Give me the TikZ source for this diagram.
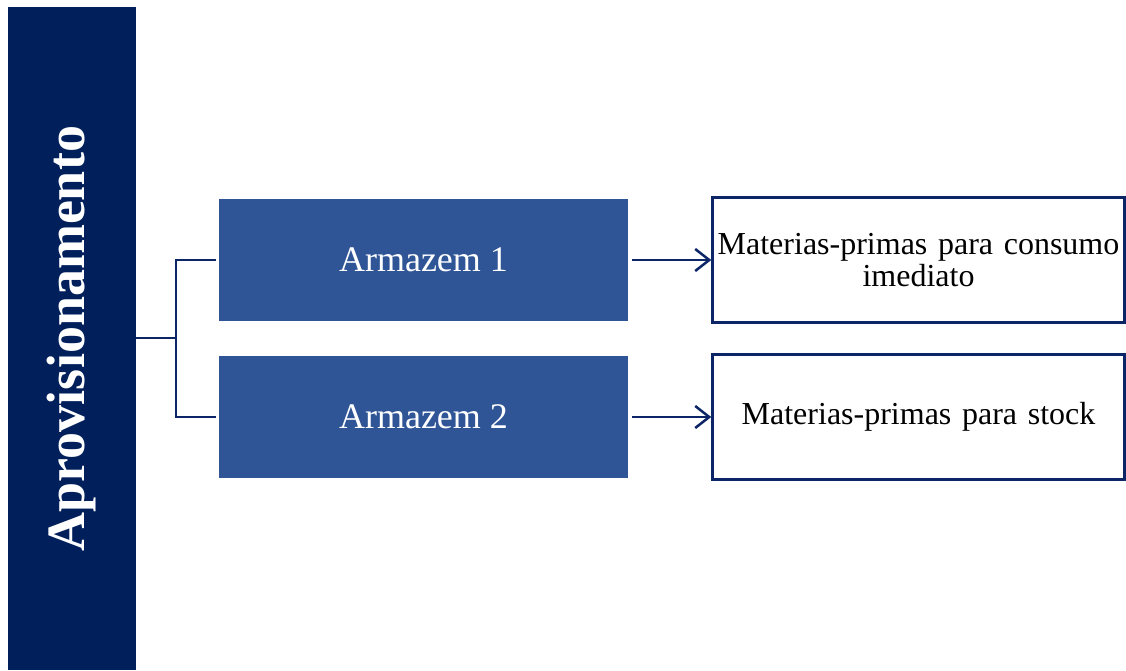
\documentclass[tikz,border=0pt]{standalone}
\usepackage{fontspec}
\setmainfont{Liberation Serif}
\usetikzlibrary{arrows.meta,positioning}
\definecolor{navy}{HTML}{001F5B}
\definecolor{midblue}{HTML}{2F5597}
\definecolor{linkblue}{HTML}{0B2566}
\tikzset{
  sidebar/.style={fill=navy, draw=none, inner sep=0pt, minimum width=128pt, minimum height=663pt,
    text=white, font=\fontsize{54}{60}\selectfont\bfseries},
  storebox/.style={fill=midblue, draw=none, inner sep=0pt, minimum width=409pt, minimum height=122pt,
    text=white, font=\fontsize{36}{40}\selectfont},
  goodsbox/.style={fill=white, draw=linkblue, line width=2.5pt, inner sep=0pt, minimum width=412pt, minimum height=125pt,
    text width=410pt, align=center, font=\fontsize{32}{32}\selectfont},
  link/.style={draw=linkblue, line width=2.5pt},
  flow/.style={link, -{Straight Barb[length=14pt,width=22pt,line width=2.5pt]}}
}
\begin{document}
\begin{tikzpicture}[x=1pt,y=-1pt]
  \useasboundingbox (0,0) rectangle (1126,670);
  \fill[white] (0,0) rectangle (1126,670);
  % left title bar
  \node[sidebar] (bar) at (72,338.5) {\rotatebox{90}{Aprovisionamento}};
  % warehouses
  \node[storebox] (a1) at (423.5,260) {Armazem 1};
  \node[storebox] (a2) at (423.5,417) {Armazem 2};
  % destinations
  \node[goodsbox] (m1) at (918.5,260) {Materias-primas para consumo\\imediato};
  \node[goodsbox] (m2) at (918.5,417) {Materias-primas para stock};
  % branching bracket
  \coordinate (fork) at (176,338);
  \draw[link] (bar.east |- fork) -- (fork);
  \draw[link] (a1.west) ++(-3,0) -| (fork) |- ([xshift=-3pt]a2.west);
  % flows to destinations
  \draw[flow] ([xshift=4pt]a1.east) -- (m1.west);
  \draw[flow] ([xshift=4pt]a2.east) -- (m2.west);
\end{tikzpicture}
\end{document}
